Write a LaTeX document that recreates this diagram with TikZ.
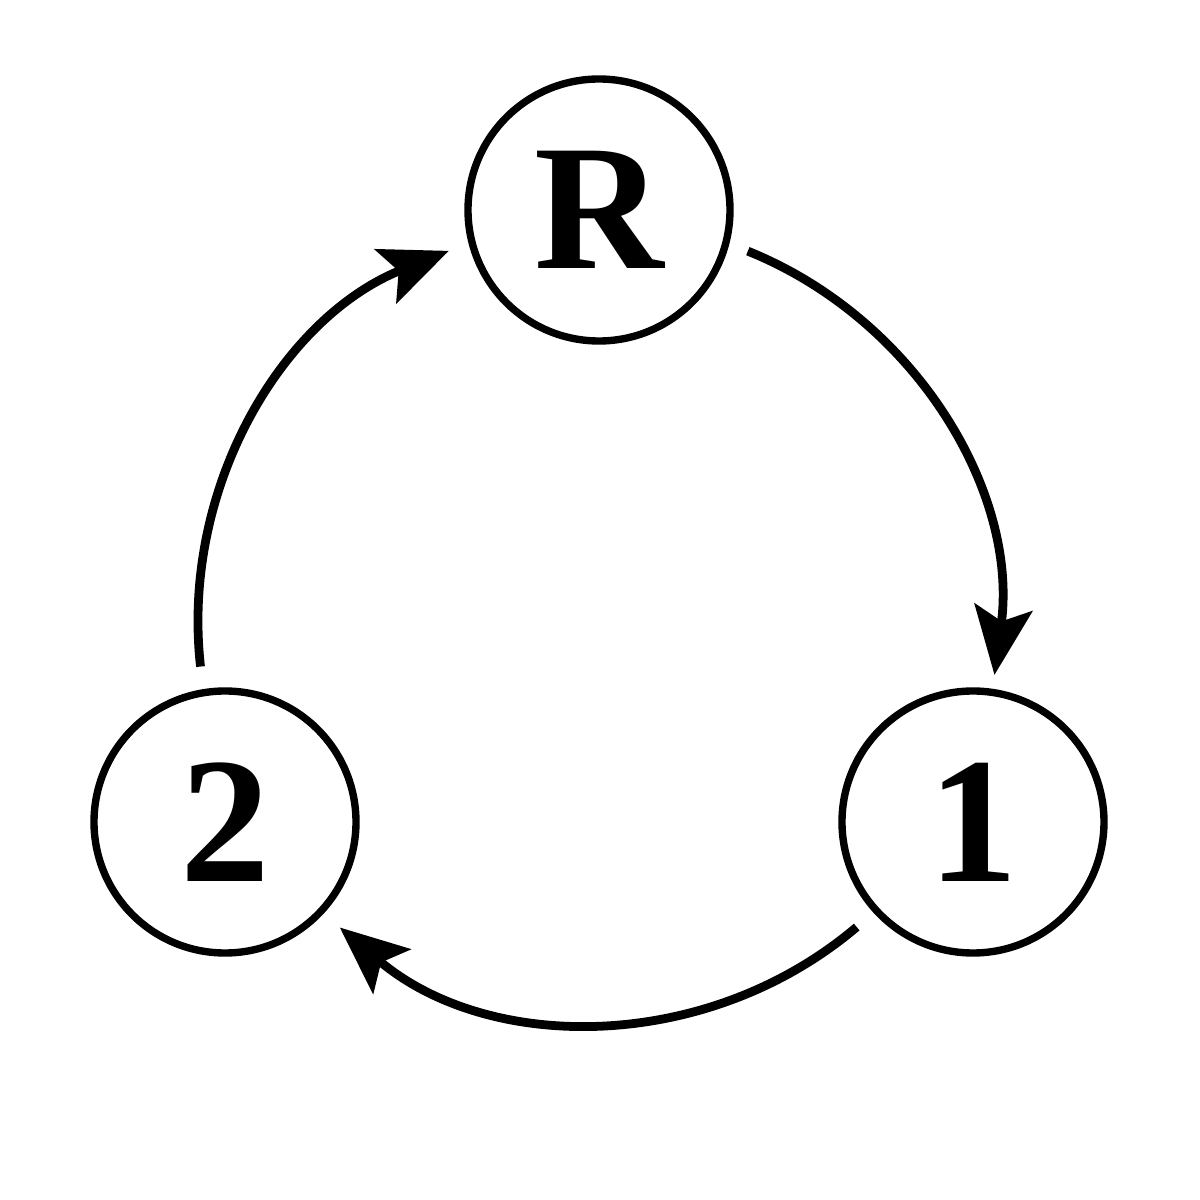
\documentclass[tikz,border=0pt]{standalone}
\usepackage{fontspec}
\setmainfont{Liberation Serif}
\usetikzlibrary{arrows.meta,calc}
\begin{document}
\begin{tikzpicture}[
  statenode/.style={circle,draw,line width=2.1pt,minimum size=2.62cm,inner sep=0pt,
    font=\fontsize{51}{56}\selectfont\bfseries},
  conn/.style={line width=2.5pt,-{Stealth[length=6.8mm,width=5.8mm,inset=1.4mm]}}
]
\useasboundingbox (0,0) rectangle (12,12);
\node[statenode] (R) at (5.99,9.90) {R};
\node[statenode] (one) at (9.73,3.78) {1};
\node[statenode] (two) at (2.25,3.78) {2};
\coordinate (C) at (5.98,5.78);
\path (C) ++(68:4) coordinate (sR);
\path (C) ++(-49.7:4) coordinate (s1);
\path (C) ++(186.4:4) coordinate (s2);
\draw[conn] (sR) arc[start angle=68,end angle=-7.6,radius=4];
\draw[conn] (s1) arc[start angle=-49.7,end angle=-130.2,radius=4];
\draw[conn] (s2) arc[start angle=186.4,end angle=111.9,radius=4];
\end{tikzpicture}
\end{document}
